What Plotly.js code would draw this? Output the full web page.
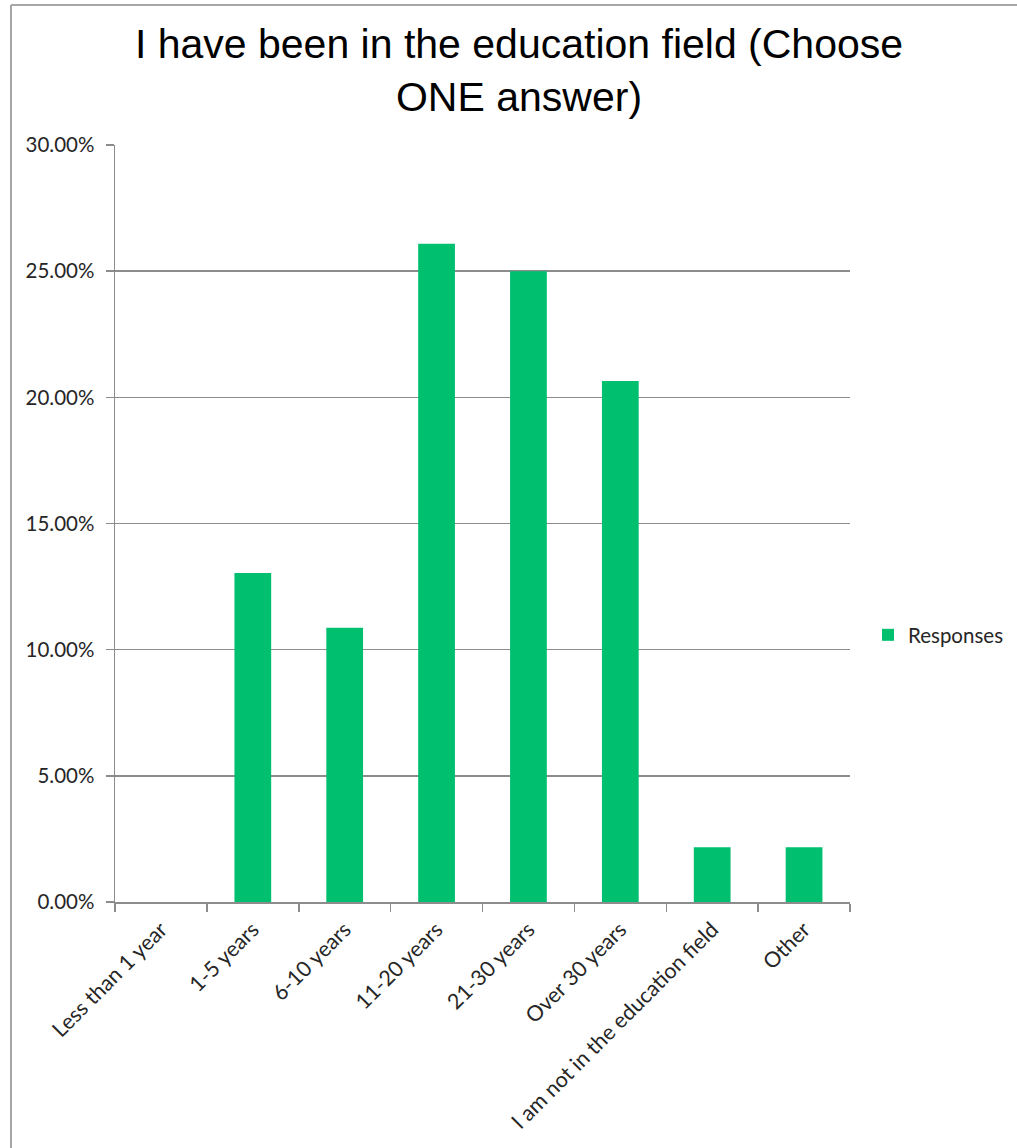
<!DOCTYPE html>
<html>
<head>
<meta charset="utf-8">
<script src="https://cdn.plot.ly/plotly-3.0.1.min.js"></script>
<style>
  html, body { margin: 0; padding: 0; background: #ffffff; }
  #chart { width: 1017px; height: 1148px; }
</style>
</head>
<body>
<div id="chart"></div>
<script>
const categories = [
  "Less than 1 year",
  "1-5 years",
  "6-10 years",
  "11-20 years",
  "21-30 years",
  "Over 30 years",
  "I am not in the education field",
  "Other"
];
const responses = [0, 0.1304, 0.1087, 0.2609, 0.25, 0.2065, 0.0217, 0.0217];
const seriesName = "Responses";
const yTickValues = [0, 0.05, 0.10, 0.15, 0.20, 0.25, 0.30];

const W = 1017, H = 1148;
const mL = 115, mR = 167, mT = 145, mB = 246;
const pw = W - mL - mR, ph = H - mT - mB;
const px = v => (v - mL) / pw;
const py = v => (H - mB - v) / ph;

const gray = "#8c8c8c";
const fam = "Lato, 'Open Sans', sans-serif";

const data = [{
  type: "bar",
  x: categories,
  y: responses,
  name: seriesName,
  marker: { color: "#00bf6f" },
  showlegend: true,
  hoverinfo: "skip"
}];

const layout = {
  width: W,
  height: H,
  margin: { l: mL, r: mR, t: mT, b: mB, pad: 0, autoexpand: false },
  paper_bgcolor: "#ffffff",
  plot_bgcolor: "#ffffff",
  bargap: 0.6,
  title: {
    text: "I have been in the education field (Choose<br>ONE answer)",
    font: { family: "'Liberation Sans', Arial, sans-serif", size: 41, color: "#000000" },
    x: 519 / W,
    xanchor: "center",
    y: 1 - 58 / H,
    yanchor: "middle"
  },
  xaxis: {
    type: "category",
    showline: true,
    linecolor: gray,
    linewidth: 1.5,
    ticks: "outside",
    tickson: "boundaries",
    ticklen: 8,
    tickcolor: gray,
    tickwidth: 1.5,
    tickangle: -45,
    tickfont: { family: fam, size: 21.5, color: "#262626" },
    ticklabelstandoff: 5,
    showgrid: false,
    zeroline: false,
    automargin: false,
    fixedrange: true
  },
  yaxis: {
    range: [0, 0.30],
    tickvals: yTickValues,
    tickformat: ".2%",
    showline: true,
    linecolor: gray,
    linewidth: 1.5,
    ticks: "outside",
    ticklen: 8,
    tickcolor: gray,
    tickwidth: 1.5,
    showgrid: true,
    gridcolor: gray,
    gridwidth: 1.5,
    zeroline: false,
    tickfont: { family: fam, size: 20.5, color: "#262626" },
    ticklabelstandoff: 7,
    automargin: false,
    fixedrange: true
  },
  legend: {
    x: px(868),
    y: py(635),
    xanchor: "left",
    yanchor: "middle",
    font: { family: fam, size: 20.5, color: "#262626" },
    bgcolor: "rgba(0,0,0,0)",
    itemwidth: 30
  },
  shapes: [
    { type: "line", xref: "paper", yref: "paper", x0: px(11), x1: px(11), y0: py(1148), y1: py(5),
      line: { color: "#a6a6a6", width: 2 } },
    { type: "line", xref: "paper", yref: "paper", x0: px(11), x1: px(1017), y0: py(5), y1: py(5),
      line: { color: "#a6a6a6", width: 2 } }
  ]
};

Plotly.newPlot("chart", data, layout, { displayModeBar: false, staticPlot: true });
</script>
</body>
</html>
